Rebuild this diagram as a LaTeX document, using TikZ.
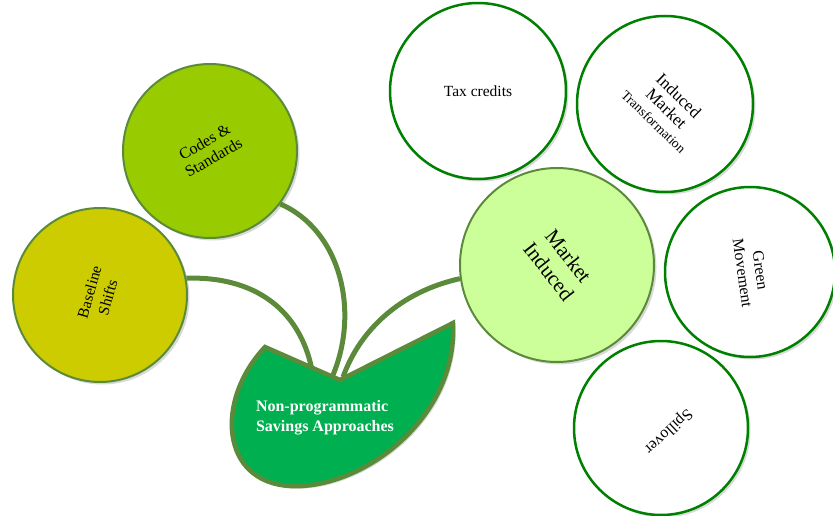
\documentclass[tikz,border=0pt]{standalone}
\usepackage{fontspec}
\setmainfont{Liberation Serif}
\usepackage{graphicx}
\usetikzlibrary{shadows}
\definecolor{stemgreen}{RGB}{91,139,58}
\definecolor{ringgreen}{RGB}{0,128,0}
\definecolor{leafgreen}{RGB}{0,176,80}
\definecolor{codesfill}{RGB}{153,204,0}
\definecolor{basefill}{RGB}{204,204,0}
\definecolor{marketfill}{RGB}{204,255,153}
\def\turned#1#2{\rotatebox{#1}{\begin{tabular}{@{}c@{}}#2\end{tabular}}}
\def\fs#1#2{\fontsize{#1}{#2}\selectfont}

\begin{document}
\begin{tikzpicture}[x=1pt, y=-1pt,
	ball/.style={circle, draw=stemgreen, line width=2pt, inner sep=0pt, minimum size=174pt,
		drop shadow={shadow xshift=2.5pt, shadow yshift=-2.5pt, opacity=0.3}},
	ring/.style={ball, draw=ringgreen, line width=2.5pt, fill=white},
	stem/.style={draw=stemgreen, line width=5pt}]
			%%%%% START %%%%%
			
			\useasboundingbox (0,0) rectangle (833,516);
			
			\node[ball, fill=basefill, font=\fs{15.5}{19}] (base) at (100,295) {\turned{74}{Baseline\\Shifts}};
			\node[ball, fill=codesfill, font=\fs{16}{18}] (codes) at (210,151) {\turned{30}{Codes \&\\Standards}};
			\node[ball, fill=marketfill, minimum size=194pt, font=\fs{21}{25}] (market) at (557,265) {\turned{-52}{Market\\Induced}};
			
			\node[ring, minimum size=176pt, font=\fs{15.5}{18}] (tax) at (478,91) {Tax credits};
			\node[ring, minimum size=176pt,
				label={[font=\fs{17}{17.5}, shift={(0,6)}]center:\turned{-44}{Induced\\Market\\{\fs{13.5}{15}Transformation}}}] (imt) at (665,104) {};
			\node[ring, minimum size=170pt, font=\fs{16}{18}] (green) at (750,272) {\turned{-82}{Green\\Movement}};
			\node[ring, minimum size=174pt,
				label={[font=\fs{16}{18}, shift={(7,3)}]center:\turned{-137}{Spillover}}] (spill) at (661,428) {};
			
			\coordinate (s1) at (312,370);
			\coordinate (s2) at (333,375);
			\coordinate (s3) at (343,377);
			
			\draw[stem] (base.11) .. controls (255,276) and (300,310) .. (s1);
			\draw[stem] (codes.-37) .. controls (340,230) and (360,310) .. (s2);
			\draw[stem] (market.188) .. controls (400,292) and (360,330) .. (s3);
			
			\draw[line width=4.5pt, draw=stemgreen, fill=leafgreen,
				drop shadow={shadow xshift=2.5pt, shadow yshift=-2.5pt, opacity=0.3}]
				(265,347) -- (340,380) -- (453,323)
				.. controls (458,420) and (360,490) .. (290,486)
				.. controls (220,482) and (215,400) .. (265,347) -- cycle;
			\node[text=white, align=left, font=\bfseries\fs{16}{20}] (leaf) at (325,418) {Non-programmatic\\Savings Approaches};
			
			%%%%% END %%%%%
\end{tikzpicture}
\end{document}
